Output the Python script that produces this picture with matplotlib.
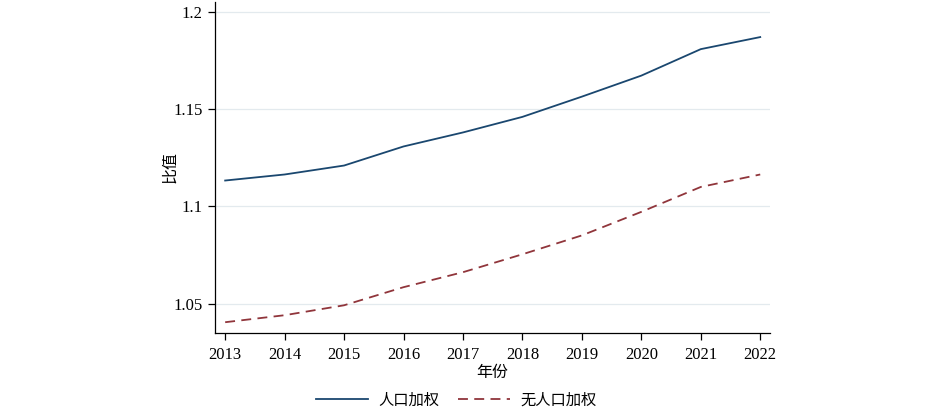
import matplotlib
matplotlib.use("Agg")
import matplotlib.pyplot as plt

years = [2013, 2014, 2015, 2016, 2017, 2018, 2019, 2020, 2021, 2022]
weighted = [1.1133, 1.1164, 1.1210, 1.1308, 1.1380, 1.1460, 1.1564, 1.1672, 1.1808, 1.1870]
unweighted = [1.0405, 1.0441, 1.0492, 1.0585, 1.0662, 1.0754, 1.0851, 1.0972, 1.1100, 1.1164]
yticks = [1.05, 1.1, 1.15, 1.2]
ytick_labels = ["1.05", "1.1", "1.15", "1.2"]

plt.rcParams['font.family'] = ['Liberation Serif', 'Noto Sans CJK SC']

fig = plt.figure(figsize=(9.27, 4.07), dpi=100)
ax = fig.add_axes([0.232, 0.182, 0.599, 0.813])

ax.plot(years, weighted, color='#1a476f', lw=1.3, label='人口加权')
ax.plot(years, unweighted, color='#90353b', lw=1.3, ls=(0, (5.5, 3.5)), label='无人口加权')

ax.set_xlim(2012.83, 2022.17)
ax.set_ylim(1.035, 1.205)
ax.set_xticks(years)
ax.set_yticks(yticks)
ax.set_yticklabels(ytick_labels)
ax.grid(axis='y', color='#e3eaee', lw=0.9)
ax.set_axisbelow(True)
for s in ['top', 'right']:
    ax.spines[s].set_visible(False)
for s in ['left', 'bottom']:
    ax.spines[s].set_linewidth(0.9)
ax.tick_params(direction='out', length=5, width=0.9, labelsize=12)
ax.tick_params(axis='y', pad=4)
ax.tick_params(axis='x', pad=5)
ax.set_xlabel('年份', fontsize=11.5)
ax.set_ylabel('比值', fontsize=11.5)
ax.xaxis.set_label_coords(0.5, -0.097)
ax.yaxis.set_label_coords(-0.066, 0.5)

fig.legend(loc='lower center', bbox_to_anchor=(0.492, -0.035), ncol=2, frameon=False,
           fontsize=11, handlelength=3.4, columnspacing=1.2, handletextpad=0.7)

fig.savefig('out.png', dpi=100)
